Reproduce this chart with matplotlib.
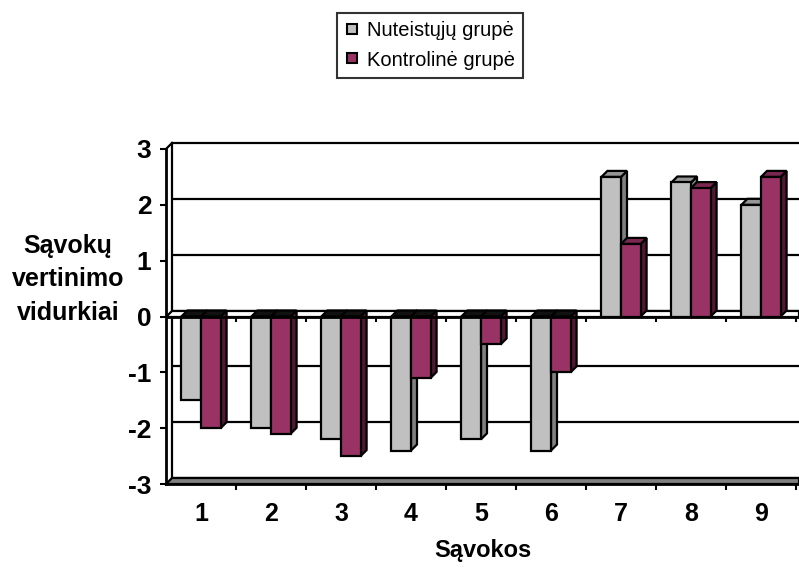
import matplotlib
matplotlib.use("Agg")
import matplotlib.pyplot as plt
from matplotlib.lines import Line2D
from matplotlib.patches import Polygon

plt.rcParams['font.family'] = ['Liberation Sans', 'DejaVu Sans']

categories = ["1", "2", "3", "4", "5", "6", "7", "8", "9"]
nuteistuju = [-1.5, -2.0, -2.2, -2.4, -2.2, -2.4, 2.5, 2.4, 2.0]
kontroline = [-2.0, -2.1, -2.5, -1.1, -0.5, -1.0, 1.3, 2.3, 2.5]
series_names = ["Nuteistųjų grupė", "Kontrolinė grupė"]
y_ticks = [-3, -2, -1, 0, 1, 2, 3]

# face colours: front, side, top
gray = ("#c0c0c0", "#808080", "#969696")
plum = ("#993366", "#4d1933", "#7a2851")

W, H = 799, 568
fig = plt.figure(figsize=(W / 100, H / 100), dpi=100)

# front plane of the 3d box, in pixels
left_px, right_px, top_px, bot_px = 166, 799, 149, 484
ax = fig.add_axes([left_px / W, (H - bot_px) / H,
                   (right_px - left_px) / W, (bot_px - top_px) / H])
xmin = 0.5
xmax = xmin + (right_px - left_px) / 70.0
ax.set_xlim(xmin, xmax)
ax.set_ylim(-3, 3)

# one pixel in data units
px_x = 1 / 70.0
px_y = 6 / (bot_px - top_px)
dx, dy = 6 * px_x, 6 * px_y
lw = 1.6

# back wall: gridlines and left edge
for y in y_ticks:
    ax.plot([xmin + dx, xmax], [y + dy, y + dy], color="black", lw=lw,
            zorder=1, clip_on=False, solid_capstyle="butt")
ax.plot([xmin + dx, xmin + dx], [-3 + dy, 3 + dy], color="black", lw=lw,
        zorder=1, clip_on=False)
ax.plot([xmin, xmin + dx], [3, 3 + dy], color="black", lw=lw, zorder=1, clip_on=False)

# floor at -3
ax.add_patch(Polygon([(xmin, -3), (xmax, -3), (xmax, -3 + dy), (xmin + dx, -3 + dy)],
                     closed=True, facecolor="#808080", edgecolor="black", lw=lw,
                     zorder=2, clip_on=False))
# floor at 0
ax.add_patch(Polygon([(xmin, 0), (xmax, 0), (xmax, dy), (xmin + dx, dy)],
                     closed=True, facecolor="white", edgecolor="black", lw=lw,
                     zorder=2, clip_on=False))

# bars with depth
bw = 0.28
z = 3
for i in range(len(categories)):
    xc = i + 1
    for vals, cols, off in ((nuteistuju, gray, -bw / 2), (kontroline, plum, bw / 2)):
        v = vals[i]
        xl, xr = xc + off - bw / 2, xc + off + bw / 2
        side = [(xr, 0), (xr + dx, dy), (xr + dx, v + dy), (xr, v)]
        if v >= 0:
            top = [(xl, v), (xr, v), (xr + dx, v + dy), (xl + dx, v + dy)]
            topc = cols[2]
        else:
            top = [(xl, 0), (xr, 0), (xr + dx, dy), (xl + dx, dy)]
            topc = "#111111"
        ax.add_patch(Polygon(side, closed=True, facecolor=cols[1], edgecolor="black",
                             lw=lw, zorder=z))
        ax.add_patch(Polygon(top, closed=True, facecolor=topc, edgecolor="black",
                             lw=lw, zorder=z))
        ax.bar(xc + off, v, bw, color=cols[0], edgecolor="black", lw=lw, zorder=z + 0.5)
        z += 1

ax.axhline(0, color="black", lw=2, zorder=z)
# tick marks under the zero line
bounds = [k + 0.5 for k in range(1, len(categories) + 1)]
ax.vlines(bounds, -5 * px_y, 0, color="black", lw=1.5, zorder=z)

for s in ("top", "right"):
    ax.spines[s].set_visible(False)
for s in ("left", "bottom"):
    ax.spines[s].set_linewidth(2)
    ax.spines[s].set_zorder(z + 1)

ax.set_yticks(y_ticks)
ax.set_yticklabels([str(t) for t in y_ticks])
ax.tick_params(axis="y", direction="out", length=4.5, width=1.5, pad=6,
               labelsize=19)
ax.set_xticks(bounds)
ax.set_xticklabels([])
ax.tick_params(axis="x", which="major", direction="out", length=4, width=1.5)
ax.set_xticks(range(1, len(categories) + 1), minor=True)
ax.set_xticklabels(categories, minor=True)
ax.tick_params(axis="x", which="minor", length=0, pad=13, labelsize=18)
for lab in ax.get_xticklabels(minor=True) + ax.get_yticklabels():
    lab.set_fontweight("bold")

fig.text(68 / W, 1 - 279 / H, "Sąvokų\nvertinimo\nvidurkiai", ha="center",
         va="center", fontsize=18, fontweight="bold", linespacing=1.5)
fig.text(483 / W, 1 - 551 / H, "Sąvokos", ha="center", va="center",
         fontsize=17, fontweight="bold")

handles = [Line2D([], [], ls="none", marker="s", markersize=7, markerfacecolor=c[0],
                  markeredgecolor="black", markeredgewidth=1.5)
           for c in (gray, plum)]
leg = fig.legend(handles, series_names, loc="center",
                 bbox_to_anchor=(430 / W, 1 - 45.5 / H), fontsize=14.5,
                 frameon=True, fancybox=False, handlelength=0.7,
                 handletextpad=0.4, borderpad=0.4, labelspacing=0.5,
                 borderaxespad=0)
leg.get_frame().set_edgecolor("black")
leg.get_frame().set_linewidth(1.5)

fig.savefig("out.png", dpi=100)
